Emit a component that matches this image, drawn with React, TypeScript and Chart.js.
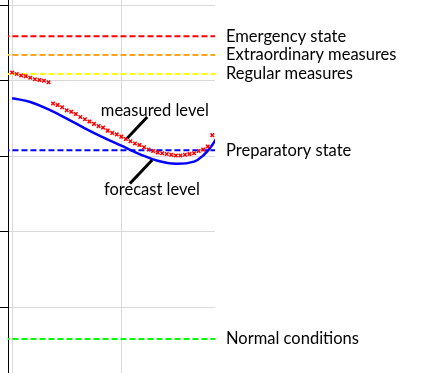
import React, { useEffect, useRef } from 'react';
import { Chart, registerables } from 'chart.js';

Chart.register(...registerables);

// Measured level, one reading per hour starting at hour 0
const measuredLevel = [
  4.11, 4.09, 4.07, 4.06, 4.04, 4.02, 4.01, 4.0, 3.98,
  3.7, 3.68, 3.65, 3.61, 3.59, 3.56, 3.52, 3.49, 3.46, 3.43, 3.4,
  3.38, 3.34, 3.31, 3.29, 3.26, 3.23, 3.2, 3.17, 3.15, 3.12,
  3.09, 3.07, 3.05, 3.04, 3.03, 3.02, 3.01, 3.01, 3.02, 3.03,
  3.04, 3.07, 3.09, 3.13, 3.28,
];

// Forecast level
const forecastHours = [0, 4, 8, 12, 16, 20, 24, 28, 32, 36, 40, 42, 44, 46];
const forecastLevel = [3.77, 3.72, 3.62, 3.5, 3.37, 3.25, 3.14, 3.03, 2.94, 2.9, 2.93, 3.01, 3.15, 3.36];

// Alert thresholds
const thresholdNames = ['Emergency state', 'Extraordinary measures', 'Regular measures', 'Preparatory state', 'Normal conditions'];
const thresholdLevels = [4.59, 4.34, 4.09, 3.08, 0.58];
const thresholdColors = ['#FF0000', '#FFA21A', '#FFFF00', '#0000FF', '#00FF00'];

// Axis ticks
const xTicks = [0, 24];
const yTicks = [1, 2, 3, 4, 5];
const xRange = [-0.9, 44.6];
const yRange = [0.13, 5.07];

// Callout annotations (data coordinates)
const callouts = [
  { text: 'measured level', tx: 19.5, ty: 3.61, x1: 29.7, y1: 3.52, x2: 25.3, y2: 3.24 },
  { text: 'forecast level', tx: 20.2, ty: 2.56, x1: 30.8, y1: 2.95, x2: 25.9, y2: 2.64 },
];

const FONT = '16.5px Lato, "Open Sans", sans-serif';

export default function App() {
  const ref = useRef<HTMLCanvasElement | null>(null);

  useEffect(() => {
    document.body.style.margin = '0';
    const canvas = ref.current;
    if (!canvas) return;

    const labelPlugin = {
      id: 'labels',
      afterDraw(chart: any) {
        const { ctx, chartArea, scales } = chart;
        const xs = scales.x;
        const ys = scales.y;
        ctx.save();
        ctx.font = FONT;
        ctx.fillStyle = '#000';
        ctx.textBaseline = 'middle';
        ctx.textAlign = 'left';
        thresholdNames.forEach((name, i) => {
          ctx.fillText(name, chartArea.right + 11, ys.getPixelForValue(thresholdLevels[i]));
        });
        callouts.forEach((c) => {
          ctx.fillText(c.text, xs.getPixelForValue(c.tx), ys.getPixelForValue(c.ty));
          ctx.beginPath();
          ctx.strokeStyle = '#000';
          ctx.lineWidth = 3;
          ctx.moveTo(xs.getPixelForValue(c.x1), ys.getPixelForValue(c.y1));
          ctx.lineTo(xs.getPixelForValue(c.x2), ys.getPixelForValue(c.y2));
          ctx.stroke();
        });
        ctx.restore();
      },
    };

    const thresholdSets = thresholdLevels.map((lv, i) => ({
      label: thresholdNames[i],
      data: [
        { x: xRange[0] - 1, y: lv },
        { x: xRange[1] + 1, y: lv },
      ],
      borderColor: thresholdColors[i],
      borderWidth: 2,
      borderDash: [6, 3],
      pointRadius: 0,
      showLine: true,
      order: 3,
    }));

    const chart = new Chart(canvas, {
      type: 'scatter',
      data: {
        datasets: [
          ...thresholdSets,
          {
            label: 'forecast level',
            data: forecastHours.map((h, i) => ({ x: h, y: forecastLevel[i] })),
            borderColor: '#0000FF',
            borderWidth: 2.5,
            pointRadius: 0,
            showLine: true,
            tension: 0.4,
            order: 2,
          },
          {
            label: 'measured level',
            data: measuredLevel.map((v, i) => ({ x: i, y: v })),
            borderColor: '#FF0000',
            backgroundColor: '#FF0000',
            pointStyle: 'crossRot',
            pointRadius: 2.5,
            borderWidth: 1.5,
            showLine: false,
            order: 1,
          },
        ] as any,
      },
      options: {
        animation: false,
        responsive: false,
        layout: { autoPadding: false, padding: { left: 0, top: 0, bottom: 0, right: 212 } },
        plugins: { legend: { display: false }, tooltip: { enabled: false } },
        scales: {
          x: {
            type: 'linear',
            min: xRange[0],
            max: xRange[1],
            afterBuildTicks: (s: any) => {
              s.ticks = xTicks.map((v) => ({ value: v }));
            },
            ticks: { display: false },
            grid: { color: '#D9D9D9', drawTicks: false },
            border: { display: false },
          },
          y: {
            type: 'linear',
            min: yRange[0],
            max: yRange[1],
            afterBuildTicks: (s: any) => {
              s.ticks = yTicks.map((v) => ({ value: v }));
            },
            ticks: { display: false },
            grid: { color: '#D9D9D9', tickColor: '#000', tickLength: 8, drawTicks: true },
            border: { display: true, color: '#000', width: 1 },
          },
        },
      } as any,
      plugins: [labelPlugin],
    });
    return () => chart.destroy();
  }, []);

  return (
    <div style={{ position: 'absolute', left: 0, top: 0, width: 427, height: 373, background: '#fff' }}>
      <canvas ref={ref} width={427} height={373} style={{ display: 'block' }} />
    </div>
  );
}
